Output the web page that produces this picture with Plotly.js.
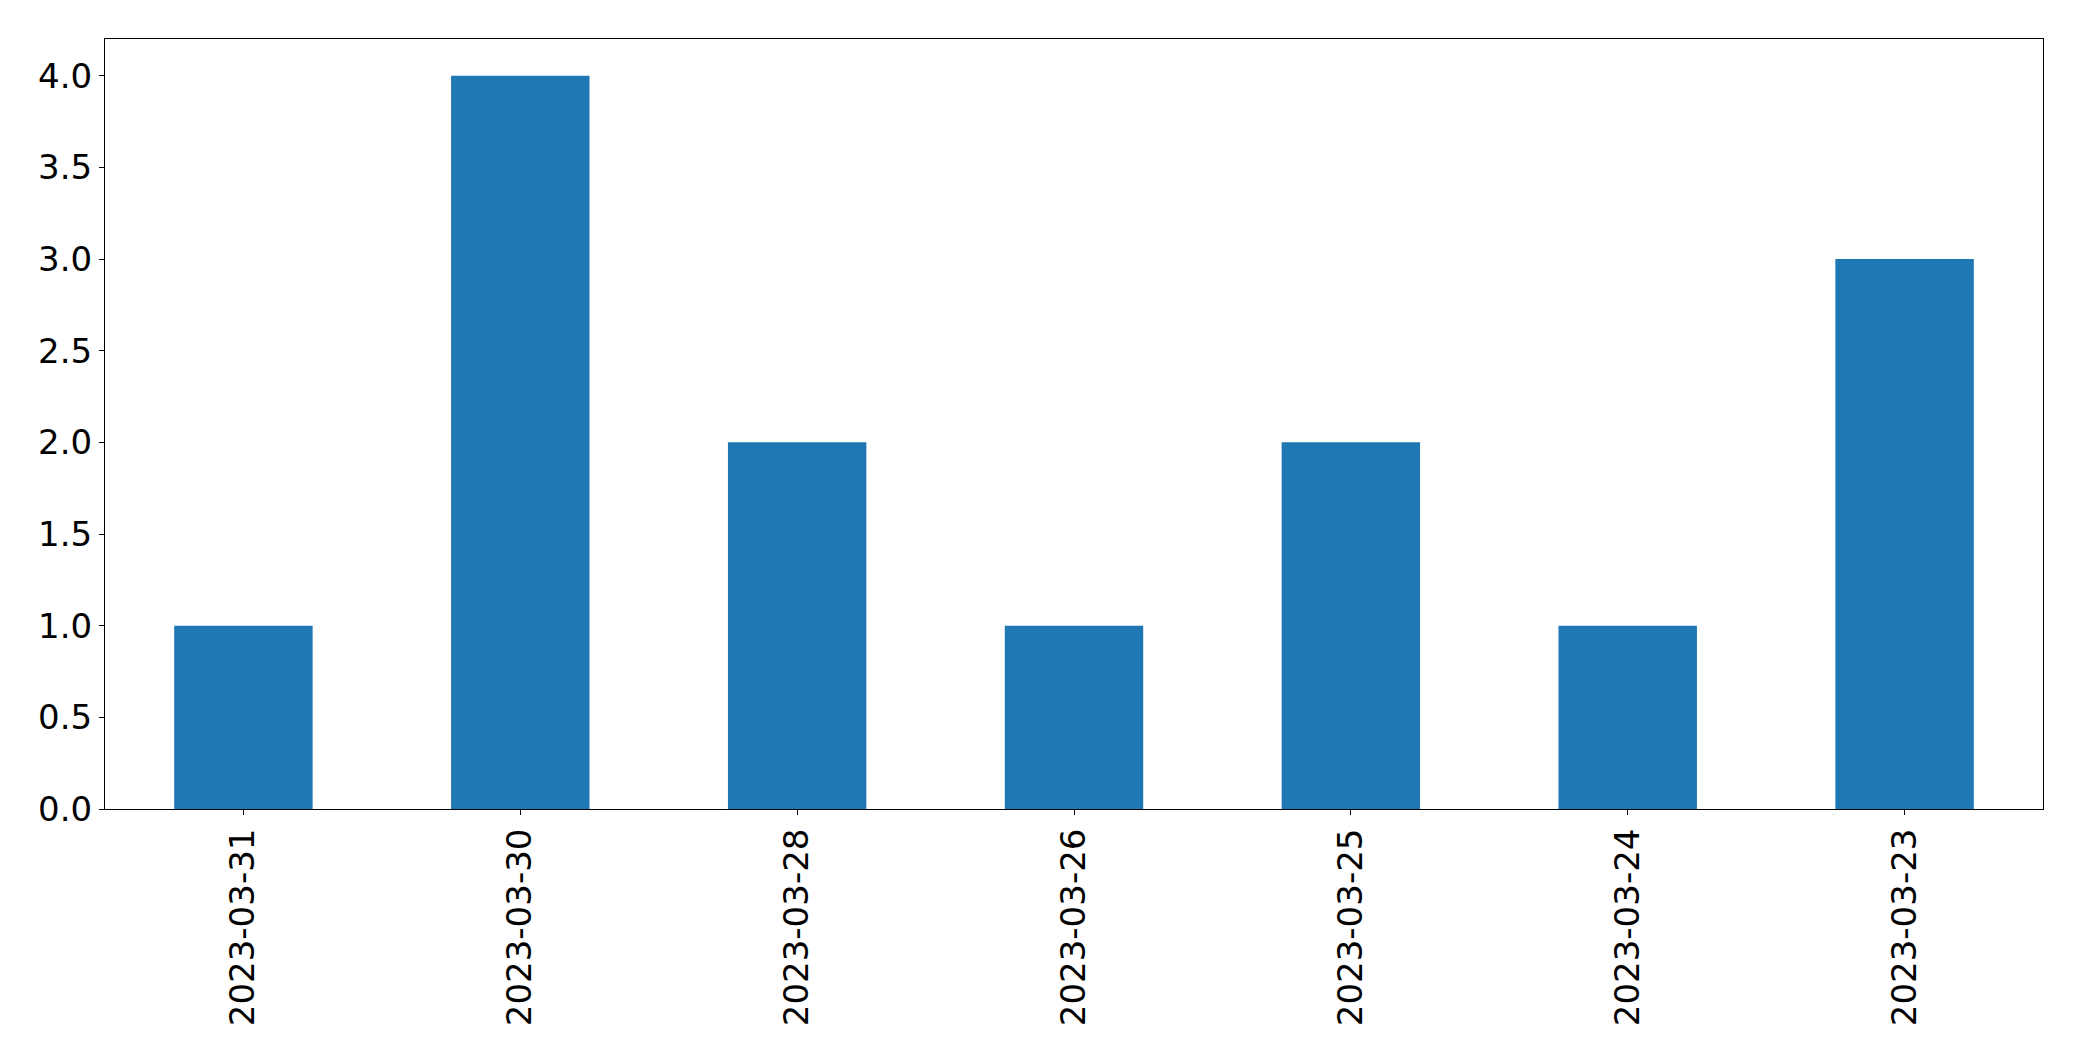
<!DOCTYPE html>
<html>
<head>
<meta charset="utf-8">
<script src="https://cdn.plot.ly/plotly-3.0.1.min.js"></script>
<style>html,body{margin:0;padding:0;background:#fff;}#chart{width:2082px;height:1061px;}</style>
</head>
<body>
<div id="chart"></div>
<script>
var dates = ["2023-03-31", "2023-03-30", "2023-03-28", "2023-03-26", "2023-03-25", "2023-03-24", "2023-03-23"];
var counts = [1, 4, 2, 1, 2, 1, 3];
var yTickVals = [0, 0.5, 1, 1.5, 2, 2.5, 3, 3.5, 4];
var yTickText = ["0.0", "0.5", "1.0", "1.5", "2.0", "2.5", "3.0", "3.5", "4.0"];

var trace = {
  type: "bar",
  x: dates,
  y: counts,
  width: 0.5,
  marker: {color: "#1f77b4", line: {width: 0}},
  hoverinfo: "x+y"
};

var tickFont = {family: "DejaVu Sans, sans-serif", size: 34, color: "#000"};

var layout = {
  width: 2082,
  height: 1061,
  margin: {l: 105.3, r: 38.7, t: 39.3, b: 252, pad: 0},
  paper_bgcolor: "#fff",
  plot_bgcolor: "#fff",
  showlegend: false,
  bargap: 0.5,
  xaxis: {
    type: "category",
    range: [-0.5, 6.5],
    showgrid: false,
    zeroline: false,
    showline: true,
    mirror: true,
    linecolor: "#000",
    linewidth: 1,
    ticks: "outside",
    ticklen: 5,
    tickwidth: 1,
    tickcolor: "#000",
    tickangle: -90,
    tickfont: tickFont
  },
  yaxis: {
    range: [0, 4.2],
    showgrid: false,
    zeroline: false,
    showline: true,
    mirror: true,
    linecolor: "#000",
    linewidth: 1,
    ticks: "outside",
    ticklen: 5,
    tickwidth: 1,
    tickcolor: "#000",
    tickvals: yTickVals,
    ticktext: yTickText,
    tickfont: tickFont
  }
};

Plotly.newPlot("chart", [trace], layout, {displayModeBar: false, staticPlot: true});
</script>
</body>
</html>
